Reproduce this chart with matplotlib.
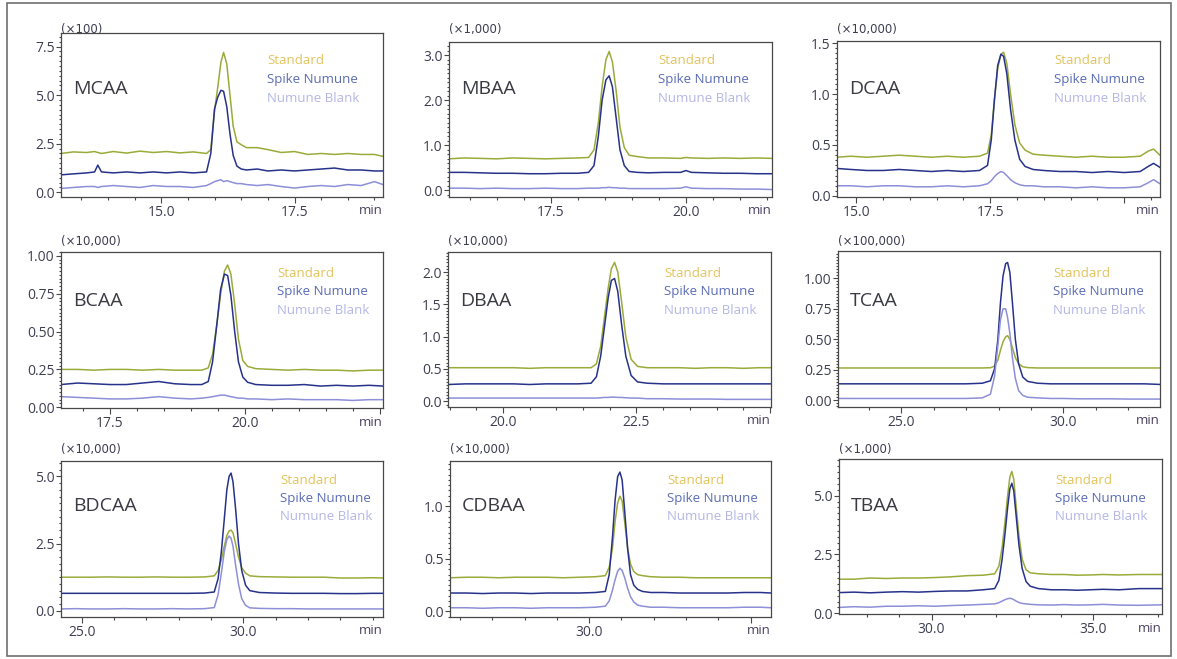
import matplotlib
matplotlib.use("Agg")
import matplotlib.pyplot as plt
from matplotlib.ticker import MultipleLocator, FixedLocator, FixedFormatter
from matplotlib.patches import Rectangle

plt.rcParams['font.family'] = ['Open Sans', 'DejaVu Sans']

W, H = 1177, 659

compounds = ["MCAA", "MBAA", "DCAA", "BCAA", "DBAA", "TCAA", "BDCAA", "CDBAA", "TBAA"]
multipliers = ["(×100)", "(×1,000)", "(×10,000)", "(×10,000)", "(×10,000)",
               "(×100,000)", "(×10,000)", "(×10,000)", "(×1,000)"]
series_names = ["Standard", "Spike Numune", "Numune Blank"]

# retention time (min) and scaled intensity
mcaa_t = [13.12, 13.35, 13.6, 13.75, 13.81, 13.88, 14.1, 14.35, 14.6, 14.85, 15.1, 15.35,
          15.6, 15.85, 15.93, 16.0, 16.06, 16.12, 16.17, 16.23, 16.29, 16.35, 16.42, 16.5,
          16.6, 16.8, 17.0, 17.25, 17.5, 17.75, 18.0, 18.25, 18.5, 18.75, 19.0, 19.16]
mcaa_std = [2.0, 2.08, 2.05, 2.1, 2.05, 2.0, 2.1, 2.02, 2.12, 2.05, 2.1, 2.03,
            2.08, 2.0, 2.2, 4.2, 5.4, 6.7, 7.2, 6.6, 5.0, 3.4, 2.6, 2.45,
            2.3, 2.3, 2.2, 2.05, 2.1, 1.95, 2.0, 1.95, 2.0, 1.95, 1.95, 1.85]
mcaa_spk = [0.9, 0.95, 1.0, 1.05, 1.4, 1.05, 1.0, 1.05, 1.0, 1.05, 1.0, 1.05,
            1.0, 1.05, 2.0, 4.3, 4.9, 5.25, 5.2, 4.4, 3.0, 1.9, 1.35, 1.2,
            1.15, 1.2, 1.1, 1.15, 1.1, 1.15, 1.2, 1.25, 1.15, 1.15, 1.1, 1.1]
mcaa_blk = [0.2, 0.25, 0.3, 0.3, 0.25, 0.3, 0.35, 0.3, 0.25, 0.35, 0.3, 0.3,
            0.25, 0.35, 0.45, 0.55, 0.6, 0.65, 0.55, 0.6, 0.55, 0.5, 0.45, 0.45,
            0.4, 0.35, 0.4, 0.3, 0.22, 0.3, 0.35, 0.3, 0.4, 0.35, 0.55, 0.4]

mbaa_t = [15.62, 15.9, 16.2, 16.5, 16.8, 17.1, 17.4, 17.7, 18.0, 18.2, 18.3, 18.38, 18.45,
          18.52, 18.58, 18.64, 18.71, 18.78, 18.86, 18.95, 19.1, 19.3, 19.6, 19.9, 20.0,
          20.1, 20.4, 20.7, 21.0, 21.3, 21.59]
mbaa_std = [0.7, 0.72, 0.71, 0.7, 0.72, 0.71, 0.7, 0.71, 0.72, 0.73, 0.9, 1.5, 2.3,
            2.9, 3.08, 2.85, 2.2, 1.4, 0.95, 0.78, 0.75, 0.72, 0.72, 0.71, 0.73,
            0.72, 0.71, 0.72, 0.71, 0.72, 0.71]
mbaa_spk = [0.4, 0.4, 0.39, 0.38, 0.38, 0.37, 0.37, 0.38, 0.38, 0.4, 0.55, 1.2, 2.0,
            2.45, 2.54, 2.3, 1.6, 0.9, 0.55, 0.42, 0.4, 0.39, 0.4, 0.4, 0.44,
            0.4, 0.39, 0.38, 0.38, 0.37, 0.37]
mbaa_blk = [0.05, 0.05, 0.04, 0.05, 0.04, 0.04, 0.05, 0.04, 0.04, 0.05, 0.05, 0.05, 0.06,
            0.06, 0.07, 0.06, 0.06, 0.05, 0.05, 0.04, 0.04, 0.04, 0.04, 0.05, 0.08,
            0.05, 0.04, 0.04, 0.03, 0.03, 0.02]

dcaa_t = [14.64, 14.9, 15.2, 15.5, 15.8, 16.1, 16.4, 16.7, 17.0, 17.3, 17.45, 17.52, 17.58,
          17.64, 17.7, 17.75, 17.81, 17.88, 17.96, 18.05, 18.15, 18.3, 18.5, 18.8, 19.1,
          19.4, 19.7, 20.0, 20.3, 20.45, 20.55, 20.67]
dcaa_std = [0.38, 0.39, 0.38, 0.39, 0.40, 0.39, 0.38, 0.39, 0.38, 0.39, 0.42, 0.6, 0.95,
            1.25, 1.39, 1.41, 1.3, 1.0, 0.7, 0.52, 0.45, 0.41, 0.40, 0.39, 0.38,
            0.39, 0.38, 0.38, 0.39, 0.44, 0.46, 0.40]
dcaa_spk = [0.27, 0.26, 0.25, 0.25, 0.26, 0.25, 0.24, 0.25, 0.24, 0.25, 0.3, 0.55, 0.95,
            1.28, 1.39, 1.37, 1.2, 0.85, 0.55, 0.36, 0.29, 0.26, 0.25, 0.24, 0.24,
            0.23, 0.24, 0.23, 0.24, 0.29, 0.32, 0.28]
dcaa_blk = [0.1, 0.1, 0.09, 0.1, 0.1, 0.09, 0.09, 0.1, 0.09, 0.1, 0.12, 0.15, 0.19,
            0.22, 0.24, 0.23, 0.2, 0.16, 0.13, 0.11, 0.1, 0.1, 0.09, 0.09, 0.08,
            0.09, 0.08, 0.08, 0.09, 0.13, 0.16, 0.12]

bcaa_t = [16.59, 16.9, 17.2, 17.5, 17.8, 18.1, 18.4, 18.7, 19.0, 19.2, 19.32, 19.4, 19.48,
          19.55, 19.62, 19.68, 19.74, 19.81, 19.88, 19.96, 20.05, 20.2, 20.5, 20.8, 21.1,
          21.4, 21.7, 22.0, 22.3, 22.56]
bcaa_std = [0.25, 0.25, 0.245, 0.25, 0.25, 0.245, 0.25, 0.245, 0.245, 0.245, 0.26, 0.35, 0.55,
            0.75, 0.9, 0.94, 0.88, 0.68, 0.45, 0.31, 0.27, 0.255, 0.25, 0.245, 0.25,
            0.245, 0.245, 0.24, 0.245, 0.245]
bcaa_spk = [0.15, 0.16, 0.155, 0.15, 0.15, 0.16, 0.17, 0.155, 0.15, 0.15, 0.17, 0.3, 0.55,
            0.78, 0.88, 0.87, 0.74, 0.5, 0.3, 0.2, 0.165, 0.15, 0.145, 0.145, 0.15,
            0.14, 0.145, 0.14, 0.145, 0.14]
bcaa_blk = [0.07, 0.065, 0.06, 0.055, 0.055, 0.06, 0.07, 0.06, 0.055, 0.06, 0.065, 0.07, 0.075,
            0.08, 0.08, 0.075, 0.07, 0.065, 0.06, 0.06, 0.055, 0.055, 0.05, 0.055, 0.05,
            0.05, 0.05, 0.045, 0.05, 0.05]

dbaa_t = [18.97, 19.3, 19.6, 19.9, 20.2, 20.5, 20.8, 21.1, 21.4, 21.65, 21.75, 21.83, 21.9,
          21.97, 22.03, 22.09, 22.15, 22.22, 22.3, 22.4, 22.52, 22.7, 23.0, 23.3, 23.6,
          23.9, 24.2, 24.5, 24.8, 25.02]
dbaa_std = [0.52, 0.52, 0.52, 0.52, 0.52, 0.51, 0.52, 0.52, 0.52, 0.52, 0.58, 0.85, 1.3,
            1.75, 2.05, 2.15, 2.0, 1.55, 1.0, 0.65, 0.54, 0.52, 0.52, 0.52, 0.51,
            0.52, 0.52, 0.51, 0.52, 0.52]
dbaa_spk = [0.26, 0.27, 0.27, 0.27, 0.27, 0.26, 0.27, 0.27, 0.27, 0.28, 0.38, 0.7, 1.15,
            1.6, 1.87, 1.9, 1.7, 1.2, 0.7, 0.4, 0.3, 0.28, 0.27, 0.27, 0.27,
            0.27, 0.27, 0.27, 0.27, 0.27]
dbaa_blk = [0.05, 0.05, 0.05, 0.05, 0.05, 0.05, 0.05, 0.05, 0.05, 0.05, 0.05, 0.055, 0.06,
            0.06, 0.065, 0.065, 0.06, 0.06, 0.055, 0.05, 0.05, 0.04, 0.04, 0.035, 0.035,
            0.035, 0.03, 0.03, 0.03, 0.03]

tcaa_t = [23.04, 23.5, 24.0, 24.5, 25.0, 25.5, 26.0, 26.5, 27.0, 27.5, 27.75, 27.88, 27.98,
          28.06, 28.14, 28.22, 28.28, 28.35, 28.43, 28.52, 28.62, 28.75, 28.9, 29.2, 29.6,
          30.0, 30.5, 31.0, 31.5, 32.0, 32.5, 32.99]
tcaa_std = [0.265, 0.265, 0.265, 0.265, 0.265, 0.265, 0.265, 0.265, 0.265, 0.265, 0.267, 0.28, 0.33,
            0.41, 0.48, 0.52, 0.53, 0.5, 0.43, 0.35, 0.3, 0.275, 0.268, 0.265, 0.265,
            0.265, 0.265, 0.265, 0.265, 0.265, 0.265, 0.265]
tcaa_spk = [0.135, 0.135, 0.135, 0.135, 0.135, 0.135, 0.135, 0.135, 0.135, 0.14, 0.16, 0.26, 0.5,
            0.8, 1.02, 1.12, 1.13, 1.05, 0.8, 0.5, 0.3, 0.19, 0.155, 0.14, 0.135,
            0.135, 0.135, 0.135, 0.135, 0.135, 0.135, 0.13]
tcaa_blk = [0.015, 0.015, 0.015, 0.015, 0.015, 0.015, 0.015, 0.015, 0.015, 0.02, 0.05, 0.2, 0.45,
            0.66, 0.75, 0.75, 0.68, 0.55, 0.35, 0.18, 0.08, 0.04, 0.025, 0.02, 0.015,
            0.015, 0.012, 0.012, 0.012, 0.01, 0.01, 0.01]

bdcaa_t = [24.36, 24.8, 25.3, 25.8, 26.3, 26.8, 27.3, 27.8, 28.3, 28.8, 29.1, 29.22, 29.32,
           29.41, 29.49, 29.56, 29.62, 29.68, 29.76, 29.85, 29.95, 30.07, 30.2, 30.5, 31.0,
           31.5, 32.0, 32.5, 33.0, 33.5, 34.0, 34.32]
bdcaa_std = [1.25, 1.25, 1.25, 1.26, 1.25, 1.25, 1.26, 1.25, 1.25, 1.26, 1.3, 1.5, 1.9,
             2.4, 2.8, 2.97, 3.0, 2.9, 2.5, 2.0, 1.6, 1.4, 1.3, 1.27, 1.26,
             1.25, 1.25, 1.25, 1.22, 1.22, 1.23, 1.22]
bdcaa_spk = [0.65, 0.65, 0.65, 0.65, 0.65, 0.65, 0.65, 0.65, 0.65, 0.66, 0.7, 1.2, 2.2,
             3.4, 4.5, 5.0, 5.12, 4.8, 3.8, 2.5, 1.5, 0.95, 0.75, 0.68, 0.66,
             0.65, 0.65, 0.65, 0.64, 0.64, 0.65, 0.65]
bdcaa_blk = [0.07, 0.08, 0.07, 0.07, 0.08, 0.07, 0.07, 0.08, 0.07, 0.08, 0.12, 0.6, 1.4,
             2.2, 2.65, 2.78, 2.7, 2.4, 1.7, 1.0, 0.45, 0.2, 0.11, 0.09, 0.08,
             0.08, 0.07, 0.07, 0.07, 0.07, 0.07, 0.07]

cdbaa_t = [25.69, 26.2, 26.7, 27.2, 27.7, 28.2, 28.7, 29.2, 29.7, 30.2, 30.5, 30.62, 30.72,
           30.8, 30.88, 30.95, 31.02, 31.1, 31.19, 31.28, 31.38, 31.5, 31.65, 31.9, 32.3,
           32.8, 33.3, 33.8, 34.3, 34.8, 35.3, 35.63]
cdbaa_std = [0.32, 0.325, 0.325, 0.32, 0.325, 0.325, 0.325, 0.32, 0.325, 0.33, 0.34, 0.42, 0.6,
             0.85, 1.03, 1.095, 1.05, 0.85, 0.6, 0.45, 0.38, 0.35, 0.34, 0.33, 0.325,
             0.325, 0.32, 0.32, 0.32, 0.32, 0.32, 0.32]
cdbaa_spk = [0.175, 0.175, 0.17, 0.175, 0.175, 0.17, 0.175, 0.175, 0.175, 0.18, 0.19, 0.35, 0.7,
             1.05, 1.28, 1.325, 1.25, 0.95, 0.6, 0.35, 0.25, 0.21, 0.19, 0.18, 0.18,
             0.175, 0.175, 0.175, 0.175, 0.18, 0.18, 0.175]
cdbaa_blk = [0.035, 0.035, 0.03, 0.035, 0.035, 0.03, 0.035, 0.035, 0.035, 0.04, 0.05, 0.1, 0.2,
             0.3, 0.38, 0.41, 0.39, 0.32, 0.22, 0.14, 0.09, 0.06, 0.05, 0.04, 0.04,
             0.035, 0.035, 0.035, 0.035, 0.04, 0.04, 0.035]

tbaa_t = [27.14, 27.6, 28.1, 28.6, 29.1, 29.6, 30.1, 30.6, 31.1, 31.6, 31.95, 32.08, 32.18,
          32.27, 32.35, 32.42, 32.48, 32.54, 32.61, 32.7, 32.8, 32.92, 33.05, 33.3, 33.7,
          34.1, 34.5, 34.9, 35.3, 35.8, 36.4, 37.12]
tbaa_std = [1.45, 1.45, 1.5, 1.48, 1.5, 1.5, 1.52, 1.55, 1.6, 1.62, 1.68, 2.0, 2.8,
            3.9, 5.0, 5.8, 6.03, 5.7, 4.6, 3.3, 2.3, 1.85, 1.72, 1.68, 1.65,
            1.65, 1.62, 1.63, 1.65, 1.63, 1.65, 1.65]
tbaa_spk = [0.88, 0.9, 0.87, 0.9, 0.92, 0.9, 0.93, 0.95, 0.95, 1.0, 1.05, 1.4, 2.3,
            3.4, 4.5, 5.3, 5.53, 5.2, 4.2, 2.9, 1.9, 1.35, 1.15, 1.05, 1.0,
            1.0, 0.98, 1.0, 1.02, 1.0, 1.05, 1.05]
tbaa_blk = [0.25, 0.28, 0.26, 0.3, 0.3, 0.32, 0.3, 0.33, 0.35, 0.38, 0.4, 0.45, 0.52,
            0.58, 0.62, 0.64, 0.62, 0.58, 0.52, 0.46, 0.42, 0.4, 0.38, 0.36, 0.35,
            0.37, 0.35, 0.36, 0.38, 0.35, 0.34, 0.36]

times = [mcaa_t, mbaa_t, dcaa_t, bcaa_t, dbaa_t, tcaa_t, bdcaa_t, cdbaa_t, tbaa_t]
standard = [mcaa_std, mbaa_std, dcaa_std, bcaa_std, dbaa_std, tcaa_std, bdcaa_std, cdbaa_std, tbaa_std]
spike = [mcaa_spk, mbaa_spk, dcaa_spk, bcaa_spk, dbaa_spk, tcaa_spk, bdcaa_spk, cdbaa_spk, tbaa_spk]
blank = [mcaa_blk, mbaa_blk, dcaa_blk, bcaa_blk, dbaa_blk, tcaa_blk, bdcaa_blk, cdbaa_blk, tbaa_blk]

# axis ranges and tick steps per panel
xlims = [(13.12, 19.16), (15.62, 21.59), (14.64, 20.67), (16.59, 22.56), (18.97, 25.02),
         (23.04, 32.99), (24.36, 34.32), (25.69, 35.63), (27.14, 37.12)]
ylims = [(-0.24, 8.2), (-0.146, 3.29), (-0.01, 1.52), (-0.005, 1.026), (-0.088, 2.31),
         (-0.055, 1.224), (-0.23, 5.57), (-0.053, 1.43), (-0.03, 6.56)]
x_major = [2.5, 2.5, 2.5, 2.5, 2.5, 5.0, 5.0, 5.0, 5.0]
x_minor = [0.5, 0.5, 0.5, 0.5, 0.5, 1.0, 1.0, 1.0, 1.0]
y_major = [2.5, 1.0, 0.5, 0.25, 0.5, 0.25, 2.5, 0.5, 2.5]
y_fmt = ["%.1f", "%.1f", "%.1f", "%.2f", "%.1f", "%.2f", "%.1f", "%.1f", "%.1f"]

# panel boxes in pixels: left, top, right, bottom
boxes = [(61, 33, 383, 197), (449, 42, 772, 197), (837, 41, 1160, 197),
         (61, 252, 383, 408), (448, 252, 771, 407), (838, 251, 1160, 407),
         (61, 461, 383, 617), (450, 461, 771, 617), (839, 459, 1162, 614)]
legend_dx = [206, 209, 217, 216, 216, 215, 219, 217, 216]
row_mult_y = [30, 241, 449]
row_name_y = [89, 301, 506]
row_leg_y = [61, 273.5, 480]

line_colors = ["#9aab3a", "#27328a", "#8d8fd8"]
text_colors = ["#e3c35c", "#5b6cb6", "#b4b7e6"]
tick_color = "#3e3e52"
frame_color = "#484848"

fig = plt.figure(figsize=(W / 100, H / 100), dpi=100)
fig.patches.append(Rectangle((7 / W, 1 - 656 / H), 1164 / W, 653 / H, transform=fig.transFigure,
                             fill=False, edgecolor="#707070", linewidth=1.2))

for i in range(9):
    l, t, r, b = boxes[i]
    ax = fig.add_axes([l / W, 1 - b / H, (r - l) / W, (b - t) / H])
    for vals, col in zip([standard[i], spike[i], blank[i]], line_colors):
        ax.plot(times[i], vals, color=col, linewidth=1.1, solid_joinstyle="round")
    x0, x1 = xlims[i]
    ax.set_xlim(x0, x1)
    ax.set_ylim(*ylims[i])

    # x ticks, label hidden where the "min" tag sits
    step = x_major[i]
    first = step * int(x0 / step + 0.999)
    xt = []
    v = first
    while v <= x1:
        xt.append(round(v, 2))
        v += step
    xl = []
    for v in xt:
        px = (x1 - v) / (x1 - x0) * (r - l)
        xl.append("" if px < 45 else "%.1f" % v)
    ax.xaxis.set_major_locator(FixedLocator(xt))
    ax.xaxis.set_major_formatter(FixedFormatter(xl))
    ax.xaxis.set_minor_locator(MultipleLocator(x_minor[i]))

    ys = y_major[i]
    ax.yaxis.set_major_locator(MultipleLocator(ys))
    ax.yaxis.set_minor_locator(MultipleLocator(ys / 10))
    ax.yaxis.set_major_formatter(plt.FormatStrFormatter(y_fmt[i]))

    ax.tick_params(axis="both", which="both", direction="out", colors=frame_color,
                   labelcolor=tick_color, labelsize=10, width=0.8)
    ax.tick_params(axis="x", which="major", length=4.0, pad=1.5)
    ax.tick_params(axis="x", which="minor", length=2.5)
    ax.tick_params(axis="y", which="major", length=3.5, pad=1)
    ax.tick_params(axis="y", which="minor", length=1.8)
    for sp in ax.spines.values():
        sp.set_color(frame_color)
        sp.set_linewidth(0.9)

    ax.annotate("min", xy=(1, 0), xycoords="axes fraction", xytext=(0, -14),
                textcoords="offset pixels", ha="right", va="center",
                fontsize=9.5, color="#4a4060")

    row = i // 3
    fig.text(l / W, 1 - row_mult_y[row] / H, multipliers[i], ha="left", va="center",
             fontsize=8.5, color=tick_color, family=["DejaVu Sans"])
    fig.text((l + 12) / W, 1 - row_name_y[row] / H, compounds[i], ha="left", va="center",
             fontsize=14, color="#3a3a44")
    for k, name in enumerate(series_names):
        fig.text((l + legend_dx[i]) / W, 1 - (row_leg_y[row] + 18.5 * k) / H, name,
                 ha="left", va="center", fontsize=9.5, color=text_colors[k])

fig.savefig("out.png", dpi=100)
